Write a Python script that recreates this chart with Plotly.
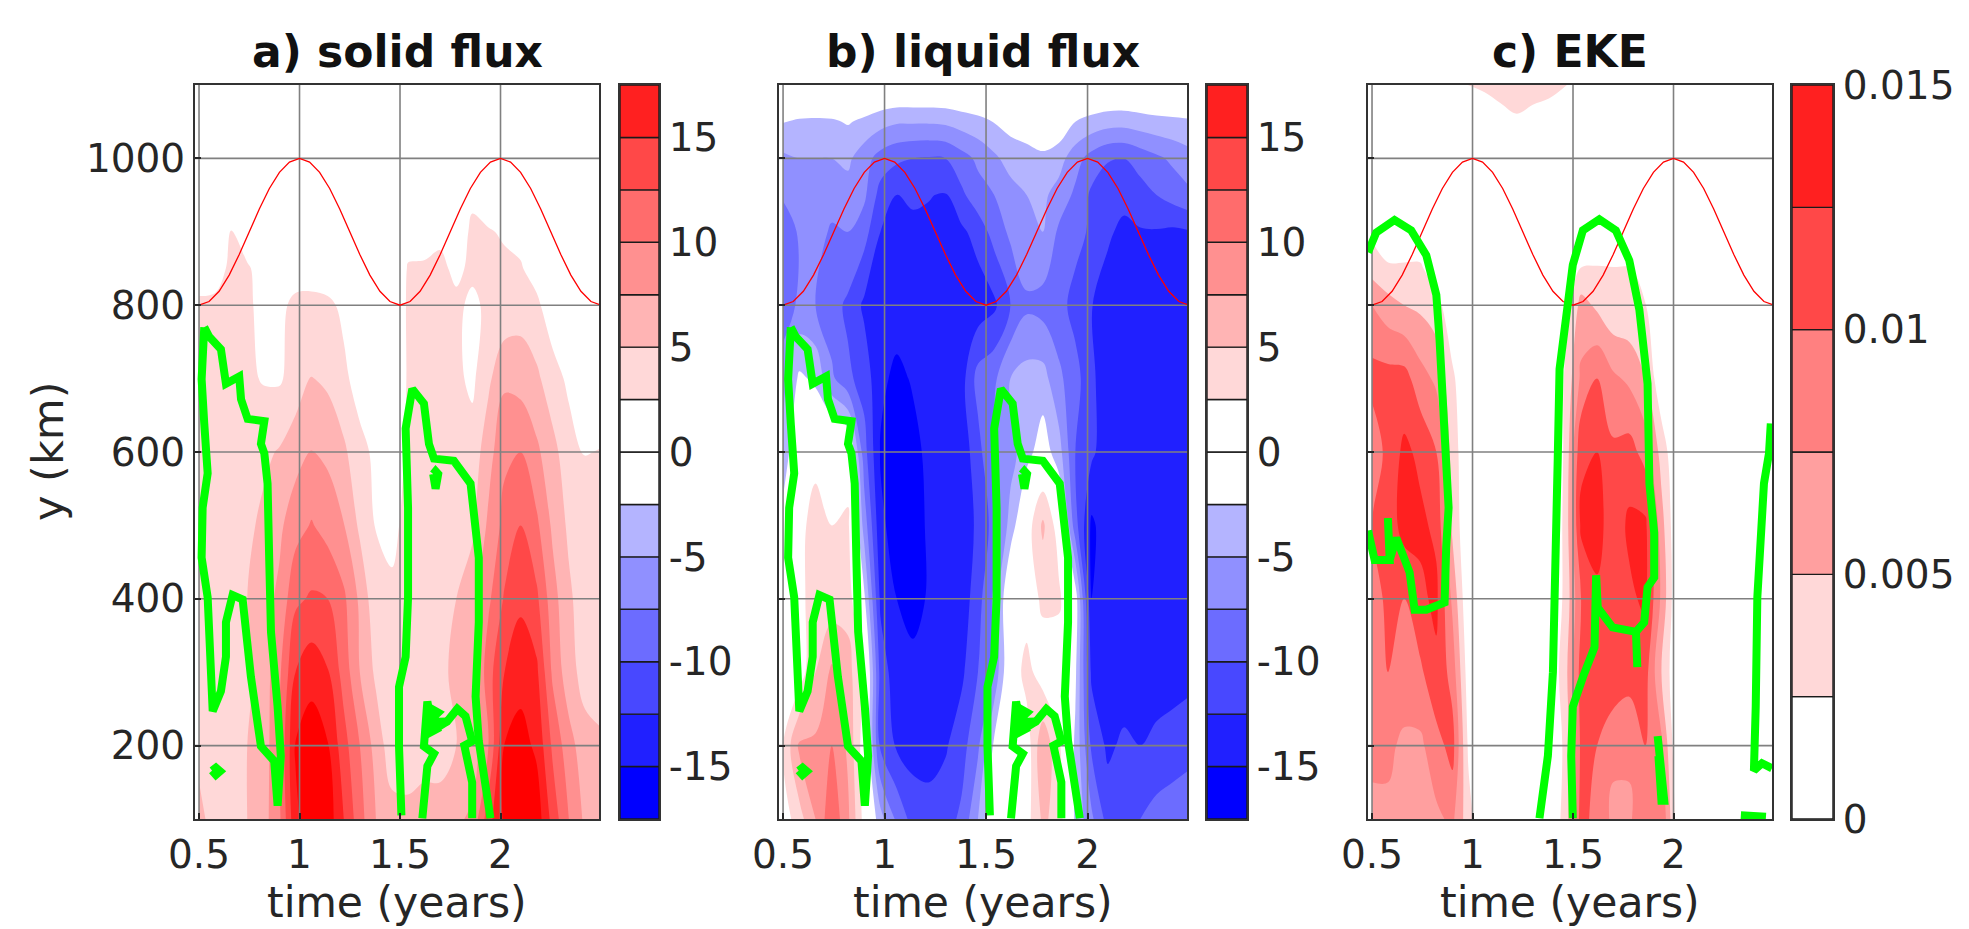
import plotly.graph_objects as go

T = [0.5,0.58,0.66,0.74,0.82,0.90,0.98,1.06,1.14,1.22,1.30,1.38,1.46,1.54,1.62,1.70,1.78,1.86,1.94,2.02,2.10,2.18,2.26,2.34,2.42,2.5]

Y_SOLID = [100,200,300,400,500,600,700,800,850,900,950,1000,1100]
SOLID = [
 [6,3.5,3.5,5,6.5,9.5,17,19,19,15,11,7.5,6,5.5,6,6,7,8,14,18,19.5,19,14,10,7,6],
 [4,3.5,3.5,5,6,10,17.7,19,17.7,13.5,10,6.5,3.5,4,4,4,5,6,10,17.6,18.5,17,12,8.5,6,5.5],
 [3.5,3,3,4.5,6,9.5,15,16.5,15.2,11.5,7.5,4.5,3,3.5,3.5,4.5,5.5,6,11.5,15,16.5,15.5,9.5,6,4,3.5],
 [3,3,3.5,5,6.5,8,12,12.8,12.5,10.5,7,3.2,2.8,3,3.2,3.5,5,6.5,9.5,12.8,14.5,13,8.5,5.5,3.5,3],
 [3,3,3.5,4.5,5.5,7,9,10.2,9,7.6,4.5,2.4,2.1,3,3,3,3.5,4.5,8,10.8,12.5,10.5,7,4.5,3.5,3],
 [3,3,3,3.2,4.5,5.2,6.5,7.6,7,5.5,3.2,2,1.5,2.8,3,3,3,3.5,6.5,9.5,10,8,5.8,3.5,2.4,2.6],
 [3,3,3,3,2.3,2.2,3.5,5.1,4.5,3,1.5,1,0.8,2.7,3,3,3,2,4.5,7,6.5,5.5,3.5,2,1,0.8],
 [3,3,3,2.8,2,2,3,3.1,3,2,1,0.5,0.5,2.8,3,3,3,2,3,3.2,3.9,3,1,0.5,0.5,0.5],
 [1,1.5,3,2.8,1.5,1,1.5,1.5,1,0.5,0,0,0,2.7,2.7,3,2,3,3,3,2.7,1.5,0.5,0,0,0],
 [0.5,1,2.6,1,0.5,0,0,0,0,0,0,0,0,1.5,1.8,2,1,3,2.7,2.2,1.8,0.5,0,0,0,0],
 [0,0,0,0,0,0,0,0,0,0,0,0,0,0,0,0,0,2,1,0,0,0,0,0,0,0],
 [0]*26,
 [0]*26,
]

Y_LIQUID = [100,200,300,400,500,600,700,800,900,950,1000,1050,1100]
LIQUID = [
 [1,4,7.5,12,8,1.5,-4,-8,-11,-11.5,-11,-9.5,-5,1,1,1.5,5.5,4,-3,-7,-11,-11,-10,-9,-9,-9],
 [2.5,8,8,10,7,1,-10.5,-12.8,-13.5,-13.5,-12.8,-11,-8,-2,0.5,1,7,3,-3,-10.5,-13,-12,-12.5,-12,-11,-10.5],
 [-1,1,5,8,6,2,-11,-14,-14.5,-14.5,-14,-13,-10,-7,0.5,3.5,1,0.5,-2,-13,-14,-14,-14,-13.5,-14,-13.5],
 [-1,1,5,3.5,4,-2,-13,-15,-15.6,-14.8,-14,-14,-11,-7,1,1,3,3,-1,-15,-14,-14,-13.5,-14,-14,-13],
 [-1.5,1,4.5,2.5,3,-6,-14.5,-16,-15.8,-14.7,-14,-14,-12,-9,-4,1,5.5,1,-9,-15.5,-13.5,-13,-12.5,-12.5,-13,-13],
 [-4,0,1,2,1,-9,-15.2,-16,-15.6,-14.5,-14,-14,-11,-7,-6,-3.5,-1,-4,-10,-12,-14,-14,-14,-14,-14,-14],
 [-6,-2,-3,-7,-9.5,-11,-14.5,-15.5,-14.8,-14,-14,-13.5,-9,-8,-5,-4,-4,-7,-9,-12,-14,-14,-14,-14,-14,-14],
 [-9,-7,-7.5,-9,-10.5,-13,-14,-14,-14,-14,-14,-14,-14,-13,-10,-8,-8.5,-9,-11,-12.4,-14,-14,-14,-14,-14,-14],
 [-10,-7,-6,-8,-7.5,-9,-12.5,-13.5,-14,-13,-13.5,-13,-11.5,-9,-7,-5.5,-5,-8,-9,-10.5,-12,-13.3,-12.7,-12.7,-13,-12.7],
 [-7,-6,-5,-6,-6,-7,-11,-12.6,-11.5,-12.4,-12.7,-10.5,-8.5,-7.5,-6,-5,-4.5,-6,-8,-10.5,-11.5,-11.5,-11,-10,-9,-8],
 [-5.5,-5,-5,-5,-4.5,-6.5,-8.5,-9.5,-10,-10.2,-10,-8.5,-7,-5.5,-4,-3.5,-3,-4,-6.5,-8.5,-9.8,-10,-9,-8,-7,-6],
 [-2.4,-2.8,-2.9,-2.8,-2.3,-3,-4,-4.7,-4.7,-4.7,-4.5,-3.8,-3.2,-2.4,-1.5,-1,-0.5,-0.5,-2.5,-3.3,-3.9,-4,-3.6,-3.2,-3,-2.8],
 [1]*26,
]

Y_EKE = [100,200,300,400,500,600,700,800,850,900,1000,1050,1100]
EKE_MILLI = [
 [7,7,6,6,7,8,3.5,0,0,0,0,0,3.5,11,9,7,7,10,10,1,0,0,0,0,0,0],
 [8,8,7,7,9,11,2,0,0,0,0,0,3,10.5,10,8,8,10,8,0,0,0,0,0,0,0],
 [9,10,9,9.5,12,9,1,0,0,0,0,0,4,11,11,12,11,11,5,0,0,0,0,0,0,0],
 [8,11,10,12,13,7,0,0,0,0,0,0,3,10,12,12,12,13,7,0,0,0,0,0,0,0],
 [10,11,13.5,13,12,4.5,0,0,0,0,0,0,3,13,13.5,11,13,13,6,0,0,0,0,0,0,0],
 [8,11,13,12,10,4,0,0,0,0,0,0,2.8,12,12.5,10.5,11,9,4,0,0,0,0,0,0,0],
 [11,11,11,8.5,7,3,0,0,0,0,0,0,2.8,8,10,8,7,5,0.5,0,0,0,0,0,0,0],
 [7.5,6,5,4.5,3.5,0.5,0,0,0,0,0,0,0.5,6,4.5,3,3,2.6,0,0,0,0,0,0,0,0],
 [4,2.8,3,3,0.5,0,0,0,0,0,0,0,0,2.6,2.7,2.6,2.6,1,0,0,0,0,0,0,0,0],
 [2,1,0,0,0,0,0,0,0,0,0,0,0,0,0,0,0,0,0,0,0,0,0,0,0,0],
 [0]*26,
 [0,0,0,0,0,0,0,0.5,1,1.8,1.2,0.8,0.3,0,0,0,0,0,0,0,0,0,0,0,0,0],
 [0,0,0,0,0,0,2.6,3,4,5,4,3.5,2.7,1,0,0,0,0,0,0,0,0,0,0,0,0],
]

RED_T = [0.5,0.55,0.6,0.65,0.7,0.75,0.8,0.85,0.9,0.95,1.0,1.05,1.1,1.15,1.2,1.25,1.3,1.35,1.4,1.45,1.5,1.55,1.6,1.65,1.7,1.75,1.8,1.85,1.9,1.95,2.0,2.05,2.1,2.15,2.2,2.25,2.3,2.35,2.4,2.45,2.49]
RED_Y = [800,805,819,841,869,900,931,959,981,995,1000,995,981,959,931,900,869,841,819,805,800,805,819,841,869,900,931,959,981,995,1000,995,981,959,931,900,869,841,819,805,801]

G1_T = [.526,.513,.526,.543,.518,.513,.543,.551,.568,.609,.634,.634,.667,.717,.758,.808,.874,.891,.907,.891,.858,.849,.841,.825,.808,.825,.742,.709,.700,.634,.609,.551,.526]
G1_Y = [770,699,639,571,524,456,402,321,247,274,321,368,405,399,294,199,179,118,186,253,355,456,557,598,611,642,645,672,703,693,740,757,770]
G2_T = [.565,.584,.605,.584,.565]
G2_Y = [166,170,165,160,166]
G3_T = [1.507,1.495,1.495,1.528,1.540,1.540,1.528,1.561,1.619,1.644,1.669,1.768,1.851,1.892,1.892,1.876,1.892,1.934,1.950]
G3_Y = [105,199,280,321,402,524,632,686,666,611,591,588,557,456,368,267,206,138,101]
G4_T = [1.611,1.636,1.669,1.619,1.636,1.66,1.735,1.785,1.826,1.859,1.82,1.859,1.859]
G4_Y = [101,172,189,199,260,225,233,250,240,206,200,150,101]
G5_T = [1.625,1.69,1.64,1.735,1.63,1.7]
G5_Y = [255,245,232,233,215,225]
G6_T = [1.665,1.677,1.69,1.677,1.665]
G6_Y = [570,574,570,550,570]

C1_T = [.48,.521,.612,.695,.770,.820,.836,.852,.869,.881,.869,.861,.770,.712,.687,.621,.588,.579,.579,.588,.513,.48]
C1_Y = [872,899,916,902,868,814,753,672,591,524,470,395,385,385,436,483,453,510,500,453,453,493]
C2_T = [1.333,1.375,1.4,1.408,1.424,1.433,1.466,1.499,1.549,1.631,1.713,1.78,1.83,1.871,1.88,1.904,1.904,1.871,1.854,1.813,1.82,1.813,1.697,1.623,1.615,1.607,1.55,1.499,1.491,1.499]
C2_Y = [101,186,300,456,591,713,794,855,902,917,902,861,794,693,557,490,429,416,368,355,307,355,361,388,432,334,294,253,186,101]
C3_T = [1.921,1.929,1.954,1.94,1.925]
C3_Y = [213,186,125,125,186]
C4_T = [2.484,2.475,2.45,2.434,2.417,2.409,2.40,2.44,2.49]
C4_Y = [639,598,557,456,402,253,166,176,169]
C5_T = [2.335,2.46]
C5_Y = [105,103]

X_TICKS = [0.5,1,1.5,2]
X_LABELS = ["0.5","1","1.5","2"]
Y_TICKS = [200,400,600,800,1000]
Y_LABELS = ["200","400","600","800","1000"]

FLUX_EDGES = [-17.5,-15,-12.5,-10,-7.5,-5,-2.5,0,2.5,5,7.5,10,12.5,15,17.5]
FLUX_COLORS = ["#0000ff","#2020ff","#4848ff","#6c6cff","#9090ff","#b4b4ff","#ffffff","#ffffff","#ffd8d8","#ffb4b4","#ff9090","#ff6c6c","#ff4848","#ff2020"]
FLUX_TICKS = [-15,-10,-5,0,5,10,15]
FLUX_LABELS = ["-15","-10","-5","0","5","10","15"]

EKE_EDGES = [0,0.0025,0.005,0.0075,0.01,0.0125,0.015]
EKE_COLORS = ["#ffffff","#ffd8d8","#ff9f9f","#ff8080","#ff4848","#ff2020"]
EKE_TICKS = [0,0.005,0.01,0.015]
EKE_LABELS = ["0","0.005","0.01","0.015"]

W, H = 1969, 929
TOP, BOT = 85, 819
PANELS = [(195,599),(779,1187),(1368,1772)]
BARS = [(620,659),(1207,1247),(1792,1833)]
FONT = "DejaVu Sans"
INK = "#262626"
TICK = 39
LABEL = 42.5
YLABEL = 43


def stepped(edges, colors):
    lo, hi = edges[0], edges[-1]
    out = []
    for i, c in enumerate(colors):
        out += [[(edges[i]-lo)/(hi-lo), c], [(edges[i+1]-lo)/(hi-lo), c]]
    return out

flux_full_edges = [-20] + FLUX_EDGES + [20]
flux_full_colors = ["#0000ff"] + FLUX_COLORS + ["#ff0000"]
eke_full_edges = EKE_EDGES + [0.0175]
eke_full_colors = EKE_COLORS + ["#ff0000"]

fig = go.Figure()
grid_x, grid_y = [], []
for t in X_TICKS:
    grid_x += [t, t, None]; grid_y += [100, 1100, None]
for v in Y_TICKS:
    grid_x += [0.48, 2.49, None]; grid_y += [v, v, None]

panels = [
 (Y_SOLID, SOLID, 1.0, flux_full_edges, flux_full_colors),
 (Y_LIQUID, LIQUID, 1.0, flux_full_edges, flux_full_colors),
 (Y_EKE, EKE_MILLI, 1e-3, eke_full_edges, eke_full_colors),
]
green_sets = [
 [(G1_T,G1_Y),(G2_T,G2_Y),(G3_T,G3_Y),(G4_T,G4_Y),(G5_T,G5_Y),(G6_T,G6_Y)],
 [([t+0.012 for t in a],b) for a,b in [(G1_T,G1_Y),(G2_T,G2_Y),(G3_T,G3_Y),(G4_T,G4_Y),(G5_T,G5_Y),(G6_T,G6_Y)]],
 [(C1_T,C1_Y),(C2_T,C2_Y),(C3_T,C3_Y),(C4_T,C4_Y),(C5_T,C5_Y)],
]

layout = {}
for i, (ys, zz, scale, edges, colors) in enumerate(panels):
    xa, ya = f"x{2*i+1}", f"y{2*i+1}"
    xb, yb = f"x{2*i+2}", f"y{2*i+2}"
    z = [[v*scale for v in row] for row in zz]
    size = edges[1]-edges[0]
    fig.add_trace(go.Contour(x=T, y=ys, z=z, xaxis=xa, yaxis=ya, showscale=False,
        colorscale=stepped(edges, colors), zauto=False, zmin=edges[0], zmax=edges[-1],
        autocontour=False, ncontours=len(colors),
        contours=dict(start=edges[0], end=edges[-1], size=size, coloring="fill", showlines=False),
        line=dict(width=0), hoverinfo="skip"))
    fig.add_trace(go.Scatter(x=grid_x, y=grid_y, xaxis=xa, yaxis=ya, mode="lines",
        line=dict(color="#808080", width=1.6), hoverinfo="skip", showlegend=False))
    fig.add_trace(go.Scatter(x=RED_T, y=RED_Y, xaxis=xa, yaxis=ya, mode="lines",
        line=dict(color="#ff0000", width=1.3), hoverinfo="skip", showlegend=False))
    for gt, gy in green_sets[i]:
        fig.add_trace(go.Scatter(x=gt, y=gy, xaxis=xa, yaxis=ya, mode="lines",
            line=dict(color="#00ff00", width=8), hoverinfo="skip", showlegend=False))
    x0, x1 = PANELS[i]
    layout["xaxis" + ("" if i == 0 else str(2*i+1))] = dict(
        domain=[x0/W, x1/W], range=[0.48, 2.49], tickmode="array", tickvals=X_TICKS, ticktext=X_LABELS,
        ticks="inside", ticklen=6, tickwidth=2, tickcolor="#262626", showgrid=False, zeroline=False,
        showline=True, linecolor="#333333", linewidth=2, mirror=True, layer="above traces", automargin=False,
        tickfont=dict(size=TICK, family=FONT, color=INK), anchor=ya)
    layout["yaxis" + ("" if i == 0 else str(2*i+1))] = dict(
        domain=[1-BOT/H, 1-TOP/H], range=[100, 1100], tickmode="array", tickvals=Y_TICKS,
        ticktext=Y_LABELS if i == 0 else [""]*5,
        ticks="inside", ticklen=6, tickwidth=2, tickcolor="#262626", showgrid=False, zeroline=False,
        showline=True, linecolor="#333333", linewidth=2, mirror=True, layer="above traces", automargin=False,
        tickfont=dict(size=TICK, family=FONT, color=INK), anchor=xa)
    if i < 2:
        be, bc, bt, bl = FLUX_EDGES, FLUX_COLORS, FLUX_TICKS, FLUX_LABELS
    else:
        be, bc, bt, bl = EKE_EDGES, EKE_COLORS, EKE_TICKS, EKE_LABELS
    fig.add_trace(go.Bar(x=[0]*len(bc), y=[be[k+1]-be[k] for k in range(len(bc))], base=be[:-1], width=1,
        marker=dict(color=bc, line=dict(color="#1a1a1a", width=1.4)), xaxis=xb, yaxis=yb,
        hoverinfo="skip", showlegend=False))
    b0, b1 = BARS[i]
    layout[f"xaxis{2*i+2}"] = dict(domain=[b0/W, b1/W], range=[-0.5, 0.5], showticklabels=False, ticks="",
        showgrid=False, zeroline=False, showline=True, linecolor="#333333", linewidth=2, mirror=True, anchor=yb, automargin=False)
    layout[f"yaxis{2*i+2}"] = dict(domain=[1-BOT/H, 1-TOP/H], range=[be[0], be[-1]], side="right", tickmode="array",
        tickvals=bt, ticktext=bl, ticks="", showgrid=False, zeroline=False, showline=True, linecolor="#333333",
        linewidth=2, mirror=True, tickfont=dict(size=TICK, family=FONT, color=INK), anchor=xb, automargin=False)

TITLES = ["a) solid flux", "b) liquid flux", "c) EKE"]
annotations = []
for (x0, x1), txt in zip(PANELS, TITLES):
    annotations.append(dict(text=f"<b>{txt}</b>", xref="paper", yref="paper", x=(x0+x1)/2/W, y=1-52/H,
        xanchor="center", yanchor="middle", showarrow=False, font=dict(size=44, family=FONT, color="#111111")))
    annotations.append(dict(text="time (years)", xref="paper", yref="paper", x=(x0+x1)/2/W, y=0,
        xanchor="center", yanchor="bottom", showarrow=False, font=dict(size=LABEL, family=FONT, color=INK)))
annotations.append(dict(text="y (km)", xref="paper", yref="paper", x=48/W, y=1-452/H, textangle=-90,
    xanchor="center", yanchor="middle", showarrow=False, font=dict(size=YLABEL, family=FONT, color=INK)))

fig.update_layout(width=W, height=H, margin=dict(l=0, r=0, t=0, b=0), paper_bgcolor="white", plot_bgcolor="white",
    showlegend=False, barmode="overlay", annotations=annotations, **layout)
fig.write_html("out.html", config={"displayModeBar": False},
    post_script="document.body.style.margin='0';document.body.style.overflow='hidden';")
